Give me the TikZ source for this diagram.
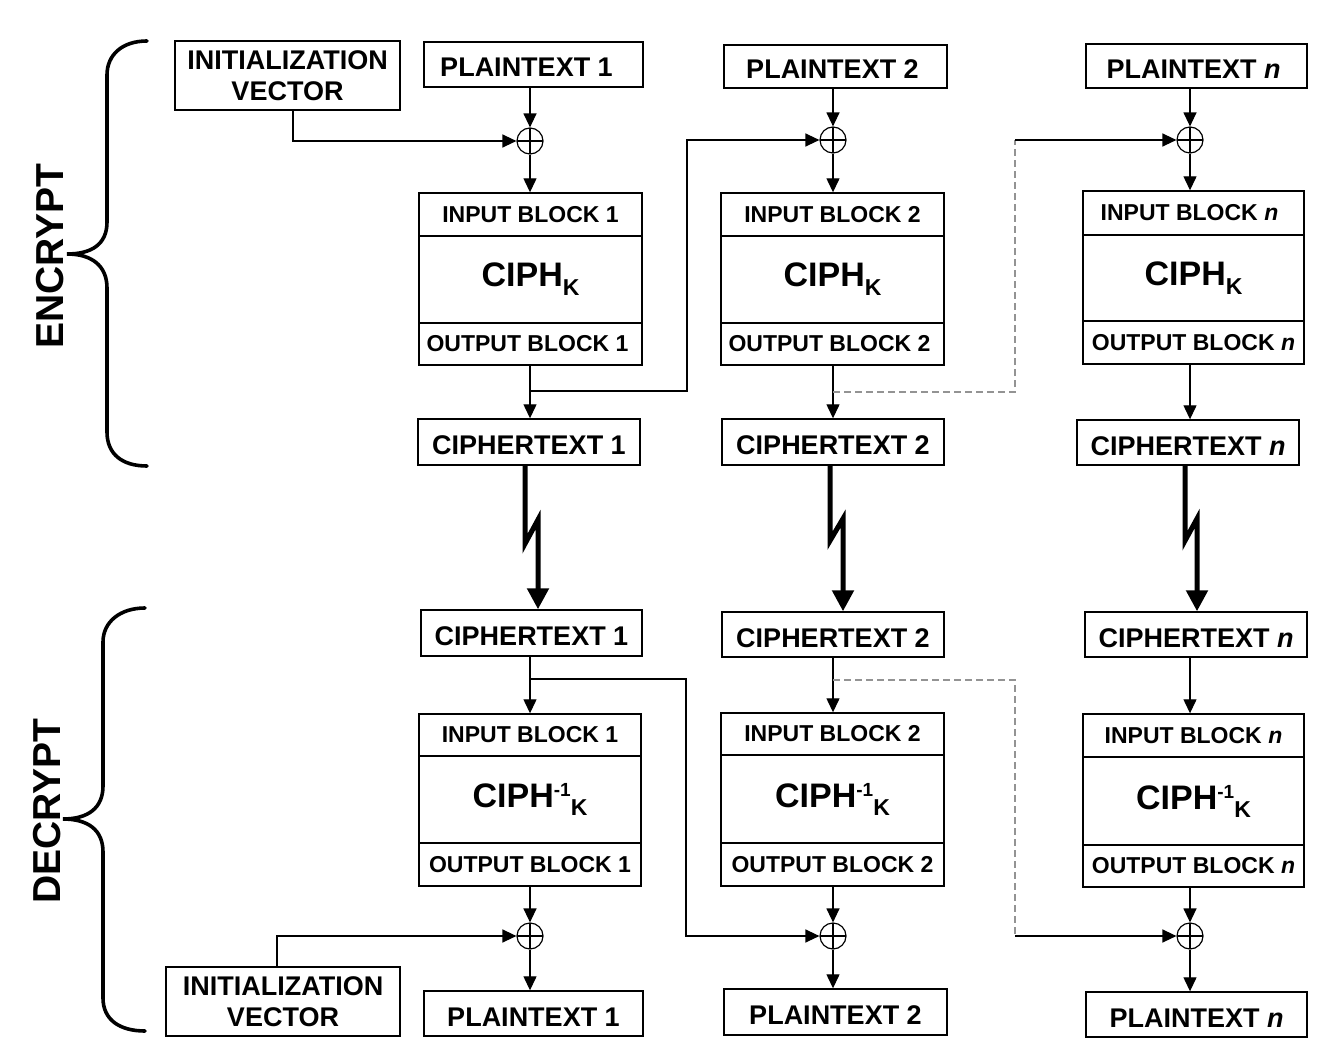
\documentclass[tikz,border=0pt]{standalone}
\usepackage{fontspec}
\setmainfont{Liberation Sans}
\usetikzlibrary{arrows.meta}
\newcommand\fsLab{\fontsize{27}{31}\selectfont\bfseries}
\newcommand\fsBlk{\fontsize{23}{26}\selectfont\bfseries}
\newcommand\fsCiph{\fontsize{34}{38}\selectfont\bfseries}
\newcommand\fsSub{\fontsize{23}{23}\selectfont\bfseries}
\newcommand\fsSup{\fontsize{19}{19}\selectfont\bfseries}
\newcommand\fsBig{\fontsize{39}{42}\selectfont\bfseries}
\newcommand\ciphK{{\fsCiph CIPH\raisebox{-9pt}{\fsSub K}}}
\newcommand\ciphInv{{\fsCiph CIPH\raisebox{11pt}{\fsSup -1}\raisebox{-8pt}{\fsSub K}}}
\begin{document}
\begin{tikzpicture}[x=1pt,y=-1pt,
  box/.style={draw,line width=1.4pt,inner sep=0pt,align=center,font=\fsLab},
  lab/.style={box,text height=25pt,text depth=0pt},
  blk/.style={draw,line width=1.4pt,inner sep=0pt,align=center,font=\fsBlk},
  xorn/.style={draw,circle,line width=1.2pt,minimum size=26pt,inner sep=0pt,
    path picture={\draw[line width=1.2pt] (path picture bounding box.north) -- (path picture bounding box.south)
      (path picture bounding box.west) -- (path picture bounding box.east);}},
  conn/.style={line width=1.3pt},
  arr/.style={conn,-{Triangle[length=14pt,width=13pt]}},
  dsh/.style={line width=1.5pt,gray!85,dash pattern=on 7pt off 4pt},
  zz/.style={line width=5pt,-{Triangle[length=21pt,width=21pt]}}
]
\useasboundingbox[fill=white] (0,0) rectangle (1333,1059);

% ---------------- braces and side labels
\draw[line width=3.6pt,line cap=round] (147,41) .. controls (122,41) and (107,55) .. (107,75) -- (107,222)
  .. controls (107,244) and (92,254) .. (67,254) .. controls (92,254) and (107,266) .. (107,288)
  -- (107,432) .. controls (107,454) and (122,466) .. (147,466);
\node[rotate=90,font=\fsBig] (enc) at (50,256) {ENCRYPT};
\draw[line width=3.6pt,line cap=round] (145,608) .. controls (120,608) and (103,622) .. (103,642) -- (103,786)
  .. controls (103,808) and (88,819) .. (63,819) .. controls (88,819) and (103,830) .. (103,852)
  -- (103,998) .. controls (103,1020) and (120,1031) .. (145,1031);
\node[rotate=90,font=\fsBig] (dec) at (47,811) {DECRYPT};

% ---------------- ENCRYPT
\node[box,minimum width=225pt,minimum height=69pt] (iv1) at (287.5,75.5) {INITIALIZATION\\VECTOR};
\node[lab,minimum width=219pt,minimum height=45pt] (p1) at (533.5,64.5) {\hspace*{-14pt}PLAINTEXT 1};
\node[lab,minimum width=223pt,minimum height=43pt] (p2) at (835.5,66.5) {\hspace*{-6pt}PLAINTEXT 2};
\node[lab,minimum width=221pt,minimum height=44pt] (pn) at (1196.5,66) {\hspace*{-6pt}PLAINTEXT \textit{n}};

\node[xorn] (x1) at (530,141) {};
\node[xorn] (x2) at (833,140) {};
\node[xorn] (xn) at (1190,140) {};

\node[blk,minimum width=223pt,minimum height=43pt] (ib1) at (530.5,214.5) {INPUT BLOCK 1};
\node[blk,minimum width=223pt,minimum height=87pt] (cb1) at (530.5,279.5) {\ciphK};
\node[blk,minimum width=223pt,minimum height=42pt] (ob1) at (530.5,344) {\hspace*{-6pt}OUTPUT BLOCK 1};

\node[blk,minimum width=223pt,minimum height=43pt] (ib2) at (832.5,214.5) {INPUT BLOCK 2};
\node[blk,minimum width=223pt,minimum height=87pt] (cb2) at (832.5,279.5) {\ciphK};
\node[blk,minimum width=223pt,minimum height=42pt] (ob2) at (832.5,344) {\hspace*{-6pt}OUTPUT BLOCK 2};

\node[blk,minimum width=221pt,minimum height=44pt] (ibn) at (1193.5,213) {\hspace*{-8pt}INPUT BLOCK \textit{n}};
\node[blk,minimum width=221pt,minimum height=86pt] (cbn) at (1193.5,278) {\ciphK};
\node[blk,minimum width=221pt,minimum height=43pt] (obn) at (1193.5,342.5) {OUTPUT BLOCK \textit{n}};

\node[lab,minimum width=222pt,minimum height=46pt] (c1) at (529,442) {CIPHERTEXT 1};
\node[lab,minimum width=222pt,minimum height=46pt] (c2) at (833,442) {CIPHERTEXT 2};
\node[lab,minimum width=222pt,minimum height=45pt] (cn) at (1188,442.5) {CIPHERTEXT \textit{n}};

\draw[arr] ([xshift=5.5pt]iv1.south) |- (x1.west);
\draw[arr] (p1.south -| x1) -- (x1.north);
\draw[arr] (p2.south -| x2) -- (x2.north);
\draw[arr] (pn.south -| xn) -- (xn.north);
\draw[arr] (x1.south) -- (ib1.north -| x1);
\draw[arr] (x2.south) -- (ib2.north -| x2);
\draw[arr] (xn.south) -- (ibn.north -| xn);
\draw[arr] (ob1.south -| x1) -- (c1.north -| x1);
\draw[arr] (ob2.south -| x2) -- (c2.north -| x2);
\draw[arr] (obn.south -| xn) -- (cn.north -| xn);
\coordinate (e1) at (530,391);
\draw[arr] (e1) -- (687,391) |- (x2.west);
\coordinate (e2) at (833,392);
\coordinate (e3) at (1015,140);
\draw[dsh] (e2) -- (1015,392) -- (e3);
\draw[arr] (e3) -- (xn.west);

% ---------------- DECRYPT
\node[lab,minimum width=221pt,minimum height=46pt] (d1) at (531.5,633) {CIPHERTEXT 1};
\node[lab,minimum width=222pt,minimum height=45pt] (d2) at (833,634.5) {CIPHERTEXT 2};
\node[lab,minimum width=222pt,minimum height=45pt] (dn) at (1196,634.5) {CIPHERTEXT \textit{n}};

\draw[zz] ([xshift=-4pt]c1.south) -- ++(0,78) -- ++(13,-24) -- ([xshift=6.5pt]d1.north);
\draw[zz] ([xshift=-3pt]c2.south) -- ++(0,75) -- ++(13,-22) -- ([xshift=10pt]d2.north);
\draw[zz] ([xshift=-3pt]cn.south) -- ++(0,75) -- ++(12,-22) -- ([xshift=1pt]dn.north);

\node[blk,minimum width=222pt,minimum height=42pt] (dib1) at (530,735) {INPUT BLOCK 1};
\node[blk,minimum width=222pt,minimum height=87pt] (dcb1) at (530,799.5) {\ciphInv};
\node[blk,minimum width=222pt,minimum height=43pt] (dob1) at (530,864.5) {OUTPUT BLOCK 1};

\node[blk,minimum width=223pt,minimum height=42pt] (dib2) at (832.5,734) {INPUT BLOCK 2};
\node[blk,minimum width=223pt,minimum height=88pt] (dcb2) at (832.5,799) {\ciphInv};
\node[blk,minimum width=223pt,minimum height=43pt] (dob2) at (832.5,864.5) {OUTPUT BLOCK 2};

\node[blk,minimum width=221pt,minimum height=43pt] (dibn) at (1193.5,735.5) {INPUT BLOCK \textit{n}};
\node[blk,minimum width=221pt,minimum height=88pt] (dcbn) at (1193.5,801) {\ciphInv};
\node[blk,minimum width=221pt,minimum height=42pt] (dobn) at (1193.5,866) {OUTPUT BLOCK \textit{n}};

\node[xorn] (y1) at (530,936) {};
\node[xorn] (y2) at (833,936) {};
\node[xorn] (yn) at (1190,936) {};

\node[box,minimum width=234pt,minimum height=69pt] (iv2) at (283,1001.5) {INITIALIZATION\\VECTOR};
\node[lab,minimum width=219pt,minimum height=45pt] (q1) at (533.5,1013.5) {PLAINTEXT 1};
\node[lab,minimum width=223pt,minimum height=46pt] (q2) at (835.5,1012) {PLAINTEXT 2};
\node[lab,minimum width=221pt,minimum height=45pt] (qn) at (1196.5,1014.5) {PLAINTEXT \textit{n}};

\draw[arr] (d1.south -| y1) -- (dib1.north -| y1);
\draw[arr] (d2.south -| y2) -- (dib2.north -| y2);
\draw[arr] (dn.south -| yn) -- (dibn.north -| yn);
\draw[arr] (dob1.south -| y1) -- (y1.north);
\draw[arr] (dob2.south -| y2) -- (y2.north);
\draw[arr] (dobn.south -| yn) -- (yn.north);
\draw[arr] (y1.south) -- (q1.north -| y1);
\draw[arr] (y2.south) -- (q2.north -| y2);
\draw[arr] (yn.south) -- (qn.north -| yn);
\draw[arr] ([xshift=-6pt]iv2.north) |- (y1.west);
\coordinate (k1) at (530,679);
\draw[arr] (k1) -- (686,679) |- (y2.west);
\coordinate (k2) at (833,680);
\coordinate (k3) at (1015,936);
\draw[dsh] (k2) -- (1015,680) -- (k3);
\draw[arr] (k3) -- (yn.west);
\end{tikzpicture}
\end{document}
